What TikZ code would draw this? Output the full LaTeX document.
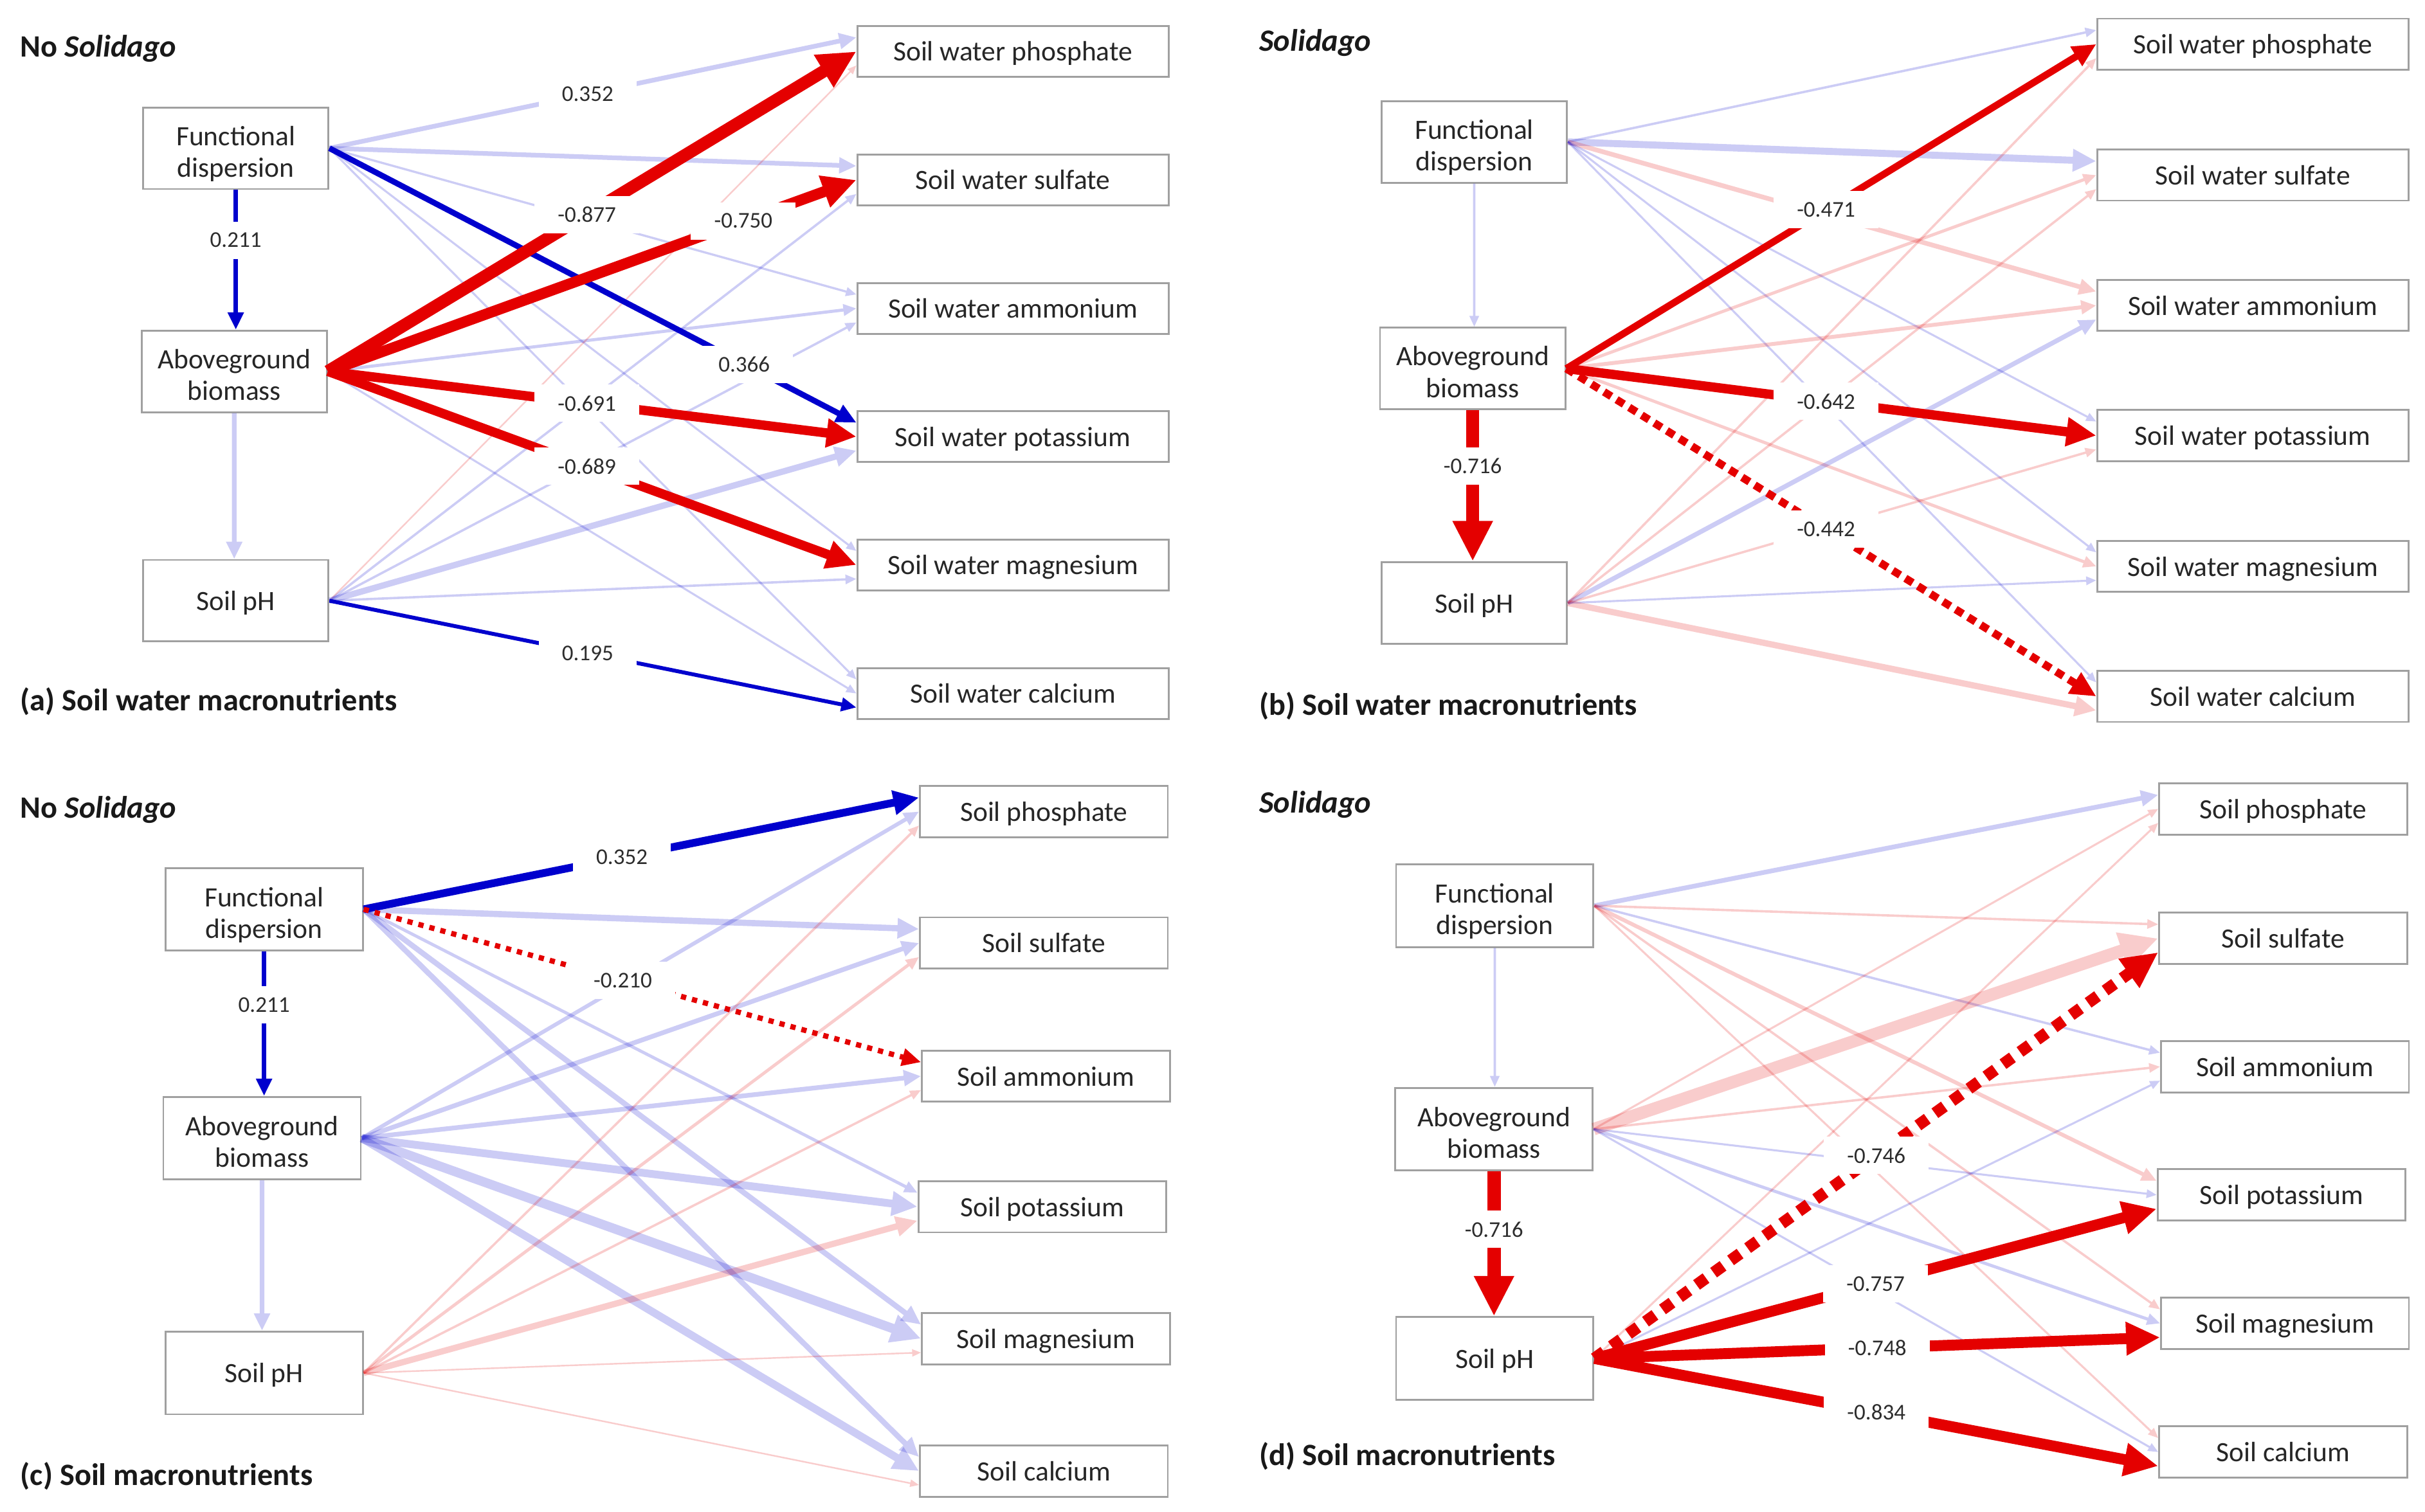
\documentclass[tikz,border=0pt]{standalone}
\usepackage{fontspec}
\setmainfont{Carlito}
\usetikzlibrary{arrows.meta}
\definecolor{sblue}{RGB}{0,0,205}
\definecolor{sred}{RGB}{228,0,0}
\definecolor{boxgray}{RGB}{160,160,160}
\definecolor{txt}{RGB}{38,38,38}
\definecolor{labtxt}{RGB}{45,45,45}
% faint (non-significant) connector drawn as one transparency group
\newcommand{\fArrow}[4]{%
  \begin{scope}[transparency group, opacity=0.2]
    \draw[tipstyle, draw=#1, line width=#2] (#3) -- (#4);
  \end{scope}}
\begin{document}
\begin{tikzpicture}[x=1pt,y=-1pt,
  boxtext/.style={font=\fontsize{18}{20.3}\selectfont, text=txt},
  lboxA/.style={boxtext, draw=boxgray, line width=1.2pt, fill=white, align=center, inner sep=0pt, minimum width=119.3pt, minimum height=52.5pt},
  lboxB/.style={boxtext, draw=boxgray, line width=1.2pt, fill=white, align=center, inner sep=0pt, minimum width=127pt, minimum height=53.2pt},
  twoline/.style={text height=40.6pt, text depth=3.6pt},
  oneline/.style={text height=13pt, text depth=0.6pt},
  rboxA/.style={boxtext, oneline, draw=boxgray, line width=1.2pt, fill=white, inner sep=0pt, minimum width=200.2pt, minimum height=32.8pt},
  rboxB/.style={boxtext, oneline, draw=boxgray, line width=1.2pt, fill=white, inner sep=0pt, minimum width=159.5pt, minimum height=33pt},
  tipstyle/.style={-{Triangle[length=3pt 2.7, width=2pt 2.6]}},
  strongB/.style={tipstyle, draw=sblue},
  strongR/.style={tipstyle, draw=sred},
  lbl/.style={fill=white, inner xsep=15pt, inner ysep=0pt, minimum height=24pt, font=\fontsize{14.5}{17}\selectfont, text=labtxt},
  ttl/.style={anchor=base west, inner sep=0pt, font=\fontsize{20}{24}\selectfont\bfseries, text=black!90}
]
\fill[white] (0,0) rectangle (1560.2,972.7);
\useasboundingbox (0,0) rectangle (1560.2,972.7);

% ---------------- titles ----------------
\node[ttl] (ta1) at (13,36.6) {No \textit{Solidago}};
\node[ttl] (ta2) at (13,457.3) {(a) Soil water macronutrients};
\node[ttl] (tb1) at (810,32.9) {\textit{Solidago}};
\node[ttl] (tb2) at (810,460.4) {(b) Soil water macronutrients};
\node[ttl] (tc1) at (13,526.4) {No \textit{Solidago}};
\node[ttl] (tc2) at (13,956) {(c) Soil macronutrients};
\node[ttl] (td1) at (810,523.2) {\textit{Solidago}};
\node[ttl] (td2) at (810,943.3) {(d) Soil macronutrients};

% ---------------- panel (a) nodes ----------------
\node[lboxA, twoline] (FDa) at (151.7,95.4) {Functional\\dispersion};
\node[lboxA, twoline] (ABa) at (150.7,239) {Aboveground\\biomass};
\node[lboxA, oneline] (PHa) at (151.7,386.6) {Soil pH};
\node[rboxA] (a1) at (651.7,33.1) {Soil water phosphate};
\node[rboxA] (a2) at (651.7,115.8) {Soil water sulfate};
\node[rboxA] (a3) at (651.7,198.5) {Soil water ammonium};
\node[rboxA] (a4) at (651.7,281) {Soil water potassium};
\node[rboxA] (a5) at (651.7,363.6) {Soil water magnesium};
\node[rboxA] (a6) at (651.7,446.3) {Soil water calcium};

% ---------------- panel (b) nodes ----------------
\node[lboxA, twoline] (FDb) at (948.5,91.3) {Functional\\dispersion};
\node[lboxA, twoline] (ABb) at (947.5,237.2) {Aboveground\\biomass};
\node[lboxA, oneline] (PHb) at (948.5,388.1) {Soil pH};
\node[rboxA] (b1) at (1449.4,28.4) {Soil water phosphate};
\node[rboxA] (b2) at (1449.4,112.7) {Soil water sulfate};
\node[rboxA] (b3) at (1449.4,196.6) {Soil water ammonium};
\node[rboxA] (b4) at (1449.4,280.3) {Soil water potassium};
\node[rboxA] (b5) at (1449.4,364.5) {Soil water magnesium};
\node[rboxA] (b6) at (1449.4,448.2) {Soil water calcium};

% ---------------- panel (c) nodes ----------------
\node[lboxB, twoline] (FDc) at (169.9,585.2) {Functional\\dispersion};
\node[lboxB, twoline] (ABc) at (168.6,732.5) {Aboveground\\biomass};
\node[lboxB, oneline] (PHc) at (169.9,883.6) {Soil pH};
\node[rboxB] (c1) at (671.6,522.3) {Soil phosphate};
\node[rboxB] (c2) at (671.6,606.9) {Soil sulfate};
\node[rboxB] (c3) at (672.9,692.6) {Soil ammonium};
\node[rboxB] (c4) at (670.6,776.6) {Soil potassium};
\node[rboxB] (c5) at (672.9,861.5) {Soil magnesium};
\node[rboxB] (c6) at (671.6,946.7) {Soil calcium};

% ---------------- panel (d) nodes ----------------
\node[lboxB, twoline] (FDd) at (961.7,582.9) {Functional\\dispersion};
\node[lboxB, twoline] (ABd) at (961.2,726.7) {Aboveground\\biomass};
\node[lboxB, oneline] (PHd) at (961.7,874.3) {Soil pH};
\node[rboxB] (d1) at (1468.9,520.6) {Soil phosphate};
\node[rboxB] (d2) at (1468.9,603.9) {Soil sulfate};
\node[rboxB] (d3) at (1470.1,686.5) {Soil ammonium};
\node[rboxB] (d4) at (1467.9,769) {Soil potassium};
\node[rboxB] (d5) at (1470.1,851.7) {Soil magnesium};
\node[rboxB] (d6) at (1468.9,934.5) {Soil calcium};

% target points (upper = from functional dispersion, lower = from soil pH)
\foreach \i in {1,...,6}{
  \coordinate (af\i) at ([yshift=9pt]a\i.west);
  \coordinate (ap\i) at ([yshift=-9pt]a\i.west);
  \coordinate (bf\i) at ([yshift=9pt]b\i.west);
  \coordinate (bp\i) at ([yshift=-9pt]b\i.west);
  \coordinate (cf\i) at ([yshift=9pt]c\i.west);
  \coordinate (cp\i) at ([yshift=-9pt]c\i.west);
  \coordinate (df\i) at ([yshift=9pt]d\i.west);
  \coordinate (dp\i) at ([yshift=-9pt]d\i.west);
}
\coordinate (ABaS) at (ABa.south);
\coordinate (PHaN) at (ABa.south |- PHa.north);
\coordinate (FDbS) at (FDb.south);
\coordinate (ABbN) at (FDb.south |- ABb.north);
\coordinate (ABcS) at (ABc.south);
\coordinate (PHcN) at (ABc.south |- PHc.north);
\coordinate (FDdS) at (FDd.south);
\coordinate (ABdN) at (FDd.south |- ABd.north);

% ================= panel (a) connectors =================
\begin{scope}[transparency group, opacity=0.2]
  \draw[tipstyle, draw=sblue, line width=3pt] (FDa.east) -- coordinate[pos=.49] (La1) (af1);
\end{scope}
\fArrow{sblue}{3pt}{FDa.east}{af2}
\fArrow{sblue}{1.4pt}{FDa.east}{af3}
\fArrow{sblue}{1.3pt}{FDa.east}{af5}
\fArrow{sblue}{1.3pt}{FDa.east}{af6}
\fArrow{sblue}{2pt}{ABa.east}{a3.west}
\fArrow{sblue}{1.3pt}{ABa.east}{a6.west}
\fArrow{sblue}{3pt}{ABaS}{PHaN}
\fArrow{sred}{1pt}{PHa.east}{ap1}
\fArrow{sblue}{1.5pt}{PHa.east}{ap2}
\fArrow{sblue}{1.5pt}{PHa.east}{ap3}
\fArrow{sblue}{4pt}{PHa.east}{ap4}
\fArrow{sblue}{1.5pt}{PHa.east}{ap5}
\draw[strongB, line width=3pt] (FDa.south) -- coordinate[pos=.36] (La2) (FDa.south |- ABa.north);
\draw[strongB, line width=3.7pt] (FDa.east) -- coordinate[pos=.787] (La3) (af4);
\draw[strongR, line width=8pt] (ABa.east) -- coordinate[pos=.49] (La4) (a1.west);
\draw[strongR, line width=7pt] (ABa.east) -- coordinate[pos=.786] (La5) (a2.west);
\draw[strongR, line width=6pt] (ABa.east) -- coordinate[pos=.49] (La6) (a4.west);
\draw[strongR, line width=6pt] (ABa.east) -- coordinate[pos=.49] (La7) (a5.west);
\draw[strongB, line width=2.5pt] (PHa.east) -- coordinate[pos=.49] (La8) (ap6);

% ================= panel (b) connectors =================
\fArrow{sblue}{1.5pt}{FDb.east}{bf1}
\fArrow{sblue}{4.5pt}{FDb.east}{bf2}
\fArrow{sred}{3pt}{FDb.east}{bf3}
\fArrow{sblue}{1.3pt}{FDb.east}{bf4}
\fArrow{sblue}{1.3pt}{FDb.east}{bf5}
\fArrow{sblue}{1.3pt}{FDb.east}{bf6}
\fArrow{sblue}{1.5pt}{FDbS}{ABbN}
\fArrow{sred}{2pt}{ABb.east}{b2.west}
\fArrow{sred}{2.5pt}{ABb.east}{b3.west}
\fArrow{sred}{2pt}{ABb.east}{b5.west}
\fArrow{sred}{1.5pt}{PHb.east}{bp1}
\fArrow{sred}{1.5pt}{PHb.east}{bp2}
\fArrow{sblue}{3pt}{PHb.east}{bp3}
\fArrow{sred}{1.5pt}{PHb.east}{bp4}
\fArrow{sblue}{1.3pt}{PHb.east}{bp5}
\fArrow{sred}{4pt}{PHb.east}{bp6}
\draw[strongR, line width=4.5pt] (ABb.east) -- coordinate[pos=.49] (Lb1) (b1.west);
\draw[strongR, line width=6pt] (ABb.east) -- coordinate[pos=.49] (Lb2) (b4.west);
\draw[strongR, line width=5pt, dash pattern=on 5.5pt off 4pt] (ABb.east) -- coordinate[pos=.49] (Lb3) (b6.west);
\draw[strongR, line width=8.5pt] (ABb.south) -- coordinate[pos=.37] (Lb4) (ABb.south |- PHb.north);

% ================= panel (c) connectors =================
\fArrow{sblue}{4pt}{FDc.east}{cf2}
\fArrow{sblue}{2pt}{FDc.east}{cf4}
\fArrow{sblue}{3.5pt}{FDc.east}{cf5}
\fArrow{sblue}{3.5pt}{FDc.east}{cf6}
\fArrow{sblue}{2.5pt}{ABc.east}{c1.west}
\fArrow{sblue}{3pt}{ABc.east}{c2.west}
\fArrow{sblue}{3pt}{ABc.east}{c3.west}
\fArrow{sblue}{5pt}{ABc.east}{c4.west}
\fArrow{sblue}{6pt}{ABc.east}{c5.west}
\fArrow{sblue}{5pt}{ABc.east}{c6.west}
\fArrow{sblue}{3pt}{ABcS}{PHcN}
\fArrow{sred}{1.5pt}{PHc.east}{cp1}
\fArrow{sred}{2pt}{PHc.east}{cp2}
\fArrow{sred}{1.5pt}{PHc.east}{cp3}
\fArrow{sred}{4pt}{PHc.east}{cp4}
\fArrow{sred}{1pt}{PHc.east}{cp5}
\fArrow{sred}{1pt}{PHc.east}{cp6}
\draw[strongB, line width=5pt] (FDc.east) -- coordinate[pos=.465] (Lc1) (cf1);
\draw[strongR, line width=3.4pt, dash pattern=on 3.4pt off 3.9pt] (FDc.east) -- coordinate[pos=.465] (Lc2) (cf3);
\draw[strongB, line width=3pt] (FDc.south) -- coordinate[pos=.37] (Lc3) (FDc.south |- ABc.north);

% ================= panel (d) connectors =================
\fArrow{sblue}{3pt}{FDd.east}{df1}
\fArrow{sred}{1.5pt}{FDd.east}{df2}
\fArrow{sblue}{1.5pt}{FDd.east}{df3}
\fArrow{sred}{2.5pt}{FDd.east}{df4}
\fArrow{sred}{1.5pt}{FDd.east}{df5}
\fArrow{sred}{1.3pt}{FDd.east}{df6}
\fArrow{sblue}{1.5pt}{FDdS}{ABdN}
\fArrow{sred}{1.3pt}{ABd.east}{d1.west}
\fArrow{sred}{8pt}{ABd.east}{d2.west}
\fArrow{sred}{1.5pt}{ABd.east}{d3.west}
\fArrow{sblue}{1.3pt}{ABd.east}{d4.west}
\fArrow{sblue}{2pt}{ABd.east}{d5.west}
\fArrow{sblue}{1.3pt}{ABd.east}{d6.west}
\fArrow{sred}{1.3pt}{PHd.east}{dp1}
\fArrow{sblue}{1.3pt}{PHd.east}{dp3}
\draw[strongR, line width=8.5pt] (ABd.south) -- coordinate[pos=.4] (Ld1) (ABd.south |- PHd.north);
\draw[strongR, line width=7.5pt, dash pattern=on 7.5pt off 6pt] (PHd.east) -- coordinate[pos=.5] (Ld2) (dp2);
\draw[strongR, line width=7pt] (PHd.east) -- coordinate[pos=.5] (Ld3) (dp4);
\draw[strongR, line width=7pt] (PHd.east) -- coordinate[pos=.5] (Ld4) (dp5);
\draw[strongR, line width=7pt] (PHd.east) -- coordinate[pos=.5] (Ld5) (dp6);

% ================= coefficient labels =================
\node[lbl] (na1) at (La1) {0.352};
\node[lbl] (na2) at (La2) {0.211};
\node[lbl] (na3) at (La3) {0.366};
\node[lbl] (na4) at (La4) {-0.877};
\node[lbl] (na5) at (La5) {-0.750};
\node[lbl] (na6) at (La6) {-0.691};
\node[lbl] (na7) at (La7) {-0.689};
\node[lbl] (na8) at (La8) {0.195};
\node[lbl] (nb1) at (Lb1) {-0.471};
\node[lbl] (nb2) at (Lb2) {-0.642};
\node[lbl] (nb3) at (Lb3) {-0.442};
\node[lbl] (nb4) at (Lb4) {-0.716};
\node[lbl] (nc1) at (Lc1) {0.352};
\node[lbl] (nc2) at (Lc2) {-0.210};
\node[lbl] (nc3) at (Lc3) {0.211};
\node[lbl] (nd1) at (Ld1) {-0.716};
\node[lbl] (nd2) at (Ld2) {-0.746};
\node[lbl] (nd3) at (Ld3) {-0.757};
\node[lbl] (nd4) at (Ld4) {-0.748};
\node[lbl] (nd5) at (Ld5) {-0.834};
\end{tikzpicture}
\end{document}
